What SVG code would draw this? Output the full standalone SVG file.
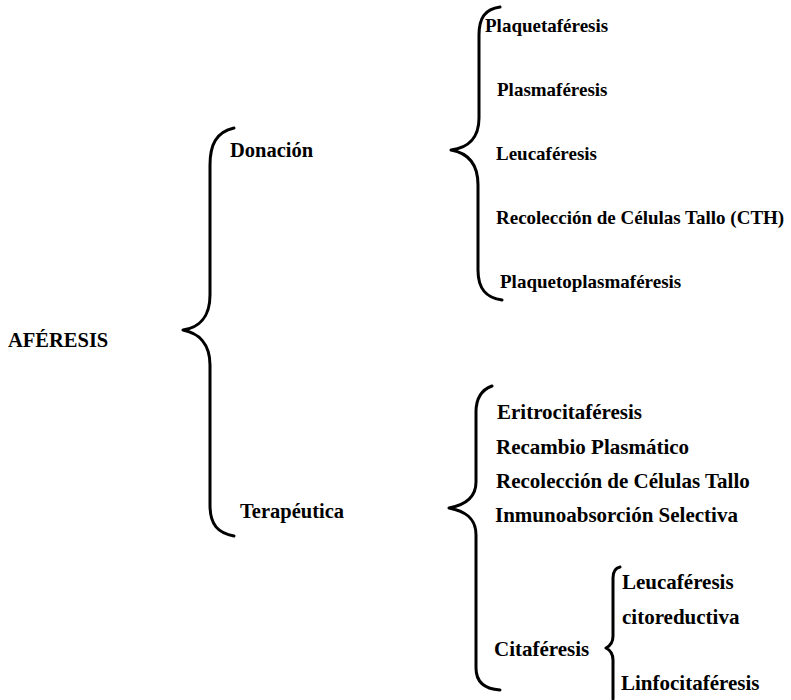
<svg xmlns="http://www.w3.org/2000/svg" width="791" height="700" viewBox="0 0 791 700">
<style>
text{font-family:"Liberation Serif","Times New Roman",serif;font-weight:bold;fill:#000}
.s{font-size:19px}
.m{font-size:20.5px}
.l{font-size:21px}
.brace{fill:none;stroke:#000;stroke-width:3;stroke-linecap:round;stroke-linejoin:round}
</style>
<rect width="791" height="700" fill="#fff"/>
<g id="connectors">
<path class="brace" d="M234,128 C216,132 210,145 210,165 L210,295 C210,318 198,328 183,330 C198,333 210,343 210,365 L210,505 C210,525 218,533 234,536"/>
<path class="brace" d="M500,7 C485,9 479,18 479,35 L479,118 C479,138 468,148 451,150 C468,153 478,163 478,185 L478,270 C478,290 487,298 502,300"/>
<path class="brace" d="M492,386 C481,390 476,398 476,412 L476,482 C476,498 465,505 449,508 C465,511 476,518 476,535 L476,668 C476,682 485,689 500,690"/>
<path class="brace" d="M620,567 C615,568 613,572 613,578 L613,636 C613,643 610,646 606,648 C610,650 613,653 613,660 L613,699"/>
</g>
<g id="aferesis"><text class="m" x="8" y="347">AFÉRESIS</text></g>
<g id="donacion"><text class="m" x="230" y="157">Donación</text></g>
<g id="terapeutica"><text class="m" x="240" y="518">Terapéutica</text></g>
<g id="plaquetaferesis"><text class="s" x="485" y="32">Plaquetaféresis</text></g>
<g id="plasmaferesis"><text class="s" x="497" y="96">Plasmaféresis</text></g>
<g id="leucaferesis-d"><text class="s" x="496" y="160">Leucaféresis</text></g>
<g id="recoleccion-cth"><text class="s" x="496" y="224">Recolección de Células Tallo (CTH)</text></g>
<g id="plaquetoplasmaferesis"><text class="s" x="500" y="288">Plaquetoplasmaféresis</text></g>
<g id="eritrocitaferesis"><text class="l" x="497" y="419">Eritrocitaféresis</text></g>
<g id="recambio"><text class="l" x="496" y="454">Recambio Plasmático</text></g>
<g id="recoleccion-t"><text class="l" x="496" y="488">Recolección de Células Tallo</text></g>
<g id="inmunoabsorcion"><text class="l" x="495" y="522">Inmunoabsorción Selectiva</text></g>
<g id="citaferesis"><text class="l" x="494" y="656">Citaféresis</text></g>
<g id="leucaferesis-c"><text class="l" x="622" y="589">Leucaféresis</text><text class="l" x="622" y="624">citoreductiva</text></g>
<g id="linfocitaferesis"><text class="l" x="621" y="690">Linfocitaféresis</text></g>
</svg>
